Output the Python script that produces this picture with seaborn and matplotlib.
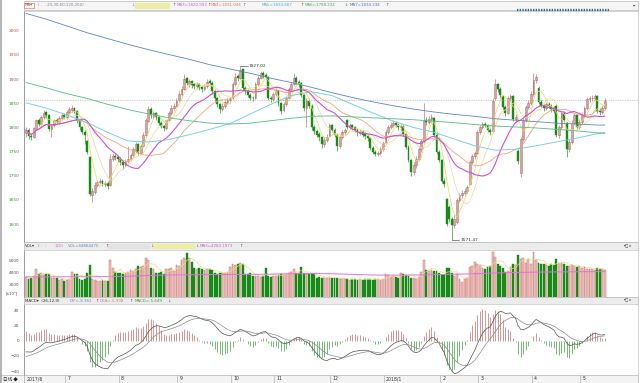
import numpy as np
import pandas as pd
import matplotlib
matplotlib.use('Agg')
import matplotlib.pyplot as plt
from matplotlib.patches import Rectangle
import seaborn as sns

# daily candles, 2017/6 .. 2018/5
open_ = [
    1788, 1795, 1783, 1781, 1797, 1816, 1808, 1821, 1831, 1826,
    1796, 1806, 1815, 1812, 1819, 1826, 1822, 1831, 1837, 1840,
    1834, 1815, 1800, 1790, 1772, 1738, 1660, 1667, 1680, 1688,
    1690, 1682, 1686, 1680, 1735, 1741, 1738, 1735, 1728, 1722,
    1730, 1734, 1742, 1754, 1765, 1748, 1762, 1785, 1814, 1838,
    1824, 1830, 1822, 1810, 1803, 1798, 1815, 1829, 1840, 1845,
    1856, 1870, 1880, 1902, 1890, 1896, 1889, 1885, 1890, 1883,
    1880, 1885, 1896, 1893, 1875, 1860, 1848, 1838, 1845, 1852,
    1856, 1860, 1890, 1906, 1903, 1920, 1882, 1875, 1868, 1862,
    1861, 1890, 1903, 1912, 1908, 1904, 1860, 1858, 1870, 1876,
    1850, 1836, 1848, 1862, 1880, 1890, 1903, 1895, 1892, 1867,
    1840, 1855, 1845, 1800, 1792, 1786, 1780, 1765, 1774, 1782,
    1805, 1795, 1785, 1762, 1780, 1790, 1815, 1800, 1805, 1800,
    1795, 1788, 1792, 1786, 1782, 1778, 1758, 1750, 1745, 1748,
    1755, 1768, 1790, 1800, 1806, 1810, 1805, 1800, 1804, 1786,
    1760, 1732, 1708, 1722, 1735, 1755, 1772, 1815, 1812, 1818,
    1820, 1785, 1750, 1732, 1690, 1652, 1635, 1610, 1598, 1604,
    1650, 1660, 1665, 1668, 1683, 1728, 1740, 1748, 1790, 1800,
    1808, 1805, 1795, 1793, 1860, 1890, 1880, 1866, 1842, 1830,
    1860, 1865, 1818, 1752, 1705, 1776, 1815, 1842, 1850, 1870,
    1898, 1882, 1852, 1845, 1840, 1848, 1845, 1840, 1845, 1785,
    1800, 1830, 1810, 1755, 1770, 1810, 1825, 1800, 1812, 1825,
    1840, 1858, 1860, 1862, 1865, 1835, 1832, 1840]
high = [
    1800, 1798, 1788, 1800, 1818, 1820, 1825, 1836, 1834, 1828,
    1808, 1818, 1819, 1824, 1830, 1830, 1836, 1842, 1846, 1843,
    1836, 1818, 1804, 1795, 1775, 1740, 1675, 1688, 1692, 1696,
    1694, 1689, 1690, 1745, 1748, 1745, 1742, 1738, 1732, 1735,
    1762, 1748, 1760, 1770, 1768, 1766, 1790, 1820, 1845, 1842,
    1835, 1833, 1825, 1814, 1806, 1818, 1834, 1846, 1850, 1860,
    1875, 1885, 1910, 1905, 1900, 1899, 1893, 1895, 1893, 1887,
    1890, 1900, 1900, 1896, 1878, 1863, 1851, 1850, 1856, 1860,
    1864, 1894, 1912, 1910, 1927.02, 1922, 1886, 1879, 1872, 1866,
    1894, 1907, 1916, 1916, 1912, 1906, 1865, 1874, 1882, 1878,
    1853, 1852, 1866, 1884, 1895, 1912, 1906, 1899, 1894, 1870,
    1862, 1860, 1848, 1805, 1796, 1790, 1783, 1780, 1786, 1810,
    1808, 1799, 1788, 1785, 1794, 1799, 1818, 1810, 1808, 1803,
    1799, 1796, 1795, 1790, 1786, 1780, 1762, 1754, 1752, 1760,
    1772, 1794, 1806, 1812, 1815, 1813, 1809, 1808, 1806, 1788,
    1763, 1735, 1728, 1740, 1760, 1776, 1850, 1822, 1824, 1828,
    1822, 1788, 1753, 1735, 1696, 1655, 1640, 1614, 1618, 1655,
    1665, 1670, 1674, 1680, 1732, 1746, 1752, 1794, 1806, 1812,
    1812, 1808, 1798, 1860, 1900, 1893, 1884, 1868, 1846, 1865,
    1870, 1867, 1828, 1756, 1780, 1820, 1847, 1856, 1876, 1913,
    1910, 1885, 1856, 1849, 1853, 1852, 1849, 1845, 1848, 1806,
    1835, 1833, 1812, 1776, 1815, 1830, 1828, 1818, 1830, 1845,
    1863, 1866, 1868, 1870, 1868, 1840, 1846, 1862]
low = [
    1780, 1777, 1774, 1778, 1795, 1803, 1805, 1818, 1820, 1792,
    1780, 1802, 1807, 1808, 1815, 1817, 1818, 1828, 1832, 1830,
    1810, 1795, 1786, 1765, 1745, 1658, 1646, 1662, 1676, 1682,
    1678, 1676, 1672, 1678, 1730, 1732, 1728, 1722, 1715, 1718,
    1726, 1730, 1738, 1750, 1742, 1745, 1760, 1782, 1812, 1820,
    1818, 1816, 1805, 1798, 1792, 1795, 1812, 1826, 1836, 1842,
    1852, 1866, 1878, 1887, 1884, 1882, 1879, 1880, 1877, 1874,
    1876, 1882, 1887, 1870, 1855, 1842, 1830, 1834, 1840, 1848,
    1850, 1858, 1886, 1896, 1900, 1878, 1870, 1863, 1857, 1855,
    1858, 1886, 1900, 1903, 1900, 1856, 1852, 1854, 1866, 1845,
    1828, 1832, 1845, 1858, 1876, 1887, 1890, 1884, 1864, 1835,
    1800, 1840, 1795, 1786, 1780, 1772, 1758, 1760, 1770, 1780,
    1790, 1780, 1752, 1758, 1776, 1786, 1796, 1796, 1795, 1790,
    1783, 1784, 1780, 1777, 1772, 1753, 1745, 1740, 1740, 1744,
    1752, 1765, 1786, 1796, 1800, 1800, 1794, 1795, 1782, 1755,
    1728, 1700, 1702, 1716, 1730, 1750, 1768, 1806, 1808, 1812,
    1780, 1745, 1728, 1685, 1676, 1596, 1605, 1571.47, 1592, 1600,
    1645, 1655, 1660, 1664, 1680, 1724, 1735, 1745, 1786, 1796,
    1800, 1790, 1785, 1790, 1856, 1874, 1860, 1838, 1824, 1828,
    1855, 1814, 1812, 1725, 1698, 1772, 1812, 1838, 1846, 1866,
    1892, 1848, 1840, 1834, 1836, 1840, 1832, 1830, 1780, 1778,
    1796, 1810, 1738, 1750, 1766, 1806, 1796, 1796, 1808, 1820,
    1836, 1852, 1855, 1857, 1830, 1826, 1828, 1836]
close = [
    1795, 1782, 1780, 1798, 1815, 1808, 1822, 1830, 1825, 1797,
    1805, 1815, 1812, 1820, 1825, 1822, 1832, 1838, 1840, 1835,
    1815, 1800, 1790, 1785, 1750, 1662, 1668, 1680, 1688, 1690,
    1682, 1685, 1678, 1735, 1740, 1738, 1735, 1728, 1722, 1730,
    1735, 1742, 1755, 1765, 1748, 1762, 1785, 1815, 1838, 1825,
    1830, 1822, 1810, 1803, 1798, 1815, 1830, 1840, 1845, 1855,
    1870, 1880, 1900, 1892, 1896, 1888, 1885, 1890, 1882, 1880,
    1885, 1895, 1893, 1875, 1860, 1848, 1838, 1845, 1852, 1856,
    1858, 1890, 1905, 1902, 1918, 1882, 1875, 1868, 1862, 1860,
    1890, 1903, 1912, 1908, 1905, 1860, 1858, 1870, 1878, 1850,
    1835, 1848, 1862, 1880, 1890, 1903, 1895, 1890, 1868, 1840,
    1855, 1845, 1800, 1792, 1785, 1780, 1765, 1775, 1780, 1805,
    1795, 1785, 1762, 1780, 1790, 1795, 1800, 1805, 1800, 1795,
    1788, 1792, 1785, 1782, 1778, 1758, 1750, 1745, 1748, 1755,
    1768, 1790, 1800, 1806, 1810, 1805, 1800, 1803, 1786, 1760,
    1732, 1708, 1722, 1735, 1755, 1772, 1815, 1812, 1818, 1822,
    1785, 1750, 1732, 1690, 1682, 1600, 1611, 1598, 1610, 1650,
    1660, 1665, 1668, 1676, 1728, 1740, 1748, 1790, 1800, 1808,
    1805, 1795, 1790, 1855, 1890, 1880, 1868, 1842, 1830, 1860,
    1865, 1818, 1822, 1730, 1776, 1815, 1842, 1850, 1870, 1898,
    1905, 1852, 1845, 1840, 1848, 1845, 1838, 1835, 1785, 1800,
    1830, 1815, 1755, 1770, 1810, 1825, 1800, 1812, 1825, 1840,
    1858, 1860, 1862, 1865, 1835, 1832, 1840, 1855]
# volume, x10^4
vol = [
    3650, 3500, 3550, 3700, 4300, 3900, 3950, 3800, 3900, 3850,
    3600, 3550, 3600, 3400, 3450, 3350, 3400, 3500, 4050, 3900,
    3850, 3500, 3400, 3450, 4000, 4600, 3450, 3400, 3350, 3300,
    3400, 3350, 3300, 5000, 4350, 4050, 3950, 3950, 3900, 4000,
    4050, 4200, 4150, 4250, 4500, 4450, 4550, 5150, 5000, 4350,
    4300, 4000, 3950, 4050, 3900, 4300, 4250, 4350, 4100, 4600,
    4500, 5000, 5150, 5550, 5150, 4850, 4350, 4300, 4350, 4250,
    4200, 4300, 4250, 4200, 3950, 3900, 4000, 3950, 4000, 4050,
    4450, 4650, 4600, 4700, 4750, 4700, 3900, 3850, 3950, 3700,
    3750, 3700, 3650, 3700, 4350, 3700, 3650, 3750, 3750, 3800,
    3850, 3800, 3900, 4000, 4050, 4300, 4000, 4000, 4450, 3950,
    3900, 3850, 3900, 3850, 3600, 3650, 3600, 3550, 3600, 3650,
    3600, 3550, 3600, 3500, 3450, 3500, 3450, 3400, 3450, 3500,
    3400, 3450, 3400, 3450, 3500, 3450, 3400, 3450, 3500, 3400,
    3500, 3900, 3800, 3650, 3700, 3650, 3600, 3950, 3900, 3800,
    3750, 3600, 3550, 3500, 3650, 4050, 5000, 4200, 4150, 4200,
    4100, 4150, 3950, 3800, 3800, 4400, 4350, 3950, 3700, 3900,
    3500, 3270, 3500, 3550, 4450, 4500, 4850, 4650, 4600, 4350,
    4300, 4450, 4500, 5650, 5250, 4700, 4500, 4400, 4050, 4100,
    4450, 4650, 4600, 5400, 5100, 5150, 4800, 5100, 4700, 5650,
    5000, 4800, 4700, 4650, 4600, 4550, 4650, 4600, 5100, 4750,
    4800, 4700, 4550, 4500, 4600, 4500, 4450, 4500, 4400, 4450,
    4300, 4250, 4300, 4200, 4350, 4300, 4250, 4200]

# long moving averages every 8 sessions
ma_idx = [0, 8, 16, 24, 32, 40, 48, 56, 64, 72, 80, 88, 96, 104, 112,
          120, 128, 136, 144, 152, 160, 168, 176, 184, 192, 200, 208, 216, 224, 227]
ma60 = [1851, 1840, 1826, 1810, 1790, 1772, 1770, 1775, 1785, 1796, 1808, 1828, 1848, 1866, 1874,
        1866, 1848, 1830, 1813, 1800, 1790, 1776, 1762, 1753, 1755, 1762, 1770, 1778, 1787, 1790]
ma120 = [1893, 1882, 1870, 1860, 1848, 1837, 1828, 1820, 1814, 1809, 1807, 1809, 1814, 1819, 1823,
         1824, 1822, 1820, 1818, 1816, 1813, 1810, 1806, 1803, 1801, 1799, 1796, 1793, 1789, 1788]
ma250 = [2036, 2024, 2010, 1996, 1984, 1972, 1961, 1951, 1941, 1930, 1921, 1912, 1902, 1893, 1883,
         1872, 1862, 1853, 1845, 1838, 1832, 1827, 1823, 1818, 1815, 1812, 1809, 1807, 1805, 1805]
vol_ma_long = [3650, 3650, 3660, 3660, 3670, 3700, 3760, 3800, 3820, 3830, 3840, 3850, 3870, 3900, 3920,
               3900, 3850, 3800, 3790, 3800, 3830, 3860, 3900, 3960, 4000, 4030, 4050, 4060, 4070, 4070]

month_pos = [0, 16, 37, 60, 81, 98, 120, 141, 163, 178, 199, 218]
month_lbl = ['2017/6', '7', '8', '9', '10', '11', '12', '2018/1', '2', '3', '4', '5']

prev_ref = 1856
# MACD(26,12,9) state before the first visible session
ema12_seed, ema26_seed, dea_seed = 1797.3, 1812.0, -21.0

o = np.array(open_, float)
h = np.array(high, float)
l = np.array(low, float)
c = np.array(close, float)
v = np.array(vol, float)
idx = np.arange(len(c))
up = c >= o

cs = pd.Series(c)
ma5 = cs.rolling(5, min_periods=1).mean()
ma10 = cs.rolling(10, min_periods=1).mean()
ma20 = cs.rolling(20, min_periods=1).mean()
ma30 = cs.rolling(30, min_periods=1).mean()
vma5 = pd.Series(v).rolling(5, min_periods=1).mean()

e12, e26, dea = [ema12_seed], [ema26_seed], [dea_seed]
for price in c[1:]:
    e12.append(e12[-1] + (price - e12[-1]) * 2 / 13)
    e26.append(e26[-1] + (price - e26[-1]) * 2 / 27)
    dea.append(dea[-1] + ((e12[-1] - e26[-1]) - dea[-1]) * 2 / 10)
dif = np.array(e12) - np.array(e26)
dea = np.array(dea)
hist = 2 * (dif - dea)

sns.set_theme(style='white')
plt.rcParams['font.family'] = ['DejaVu Sans', 'Noto Sans CJK SC']

W, H = 640, 383
fig = plt.figure(figsize=(6.4, 3.83), dpi=100)
fig.patch.set_facecolor('white')


def ax_at(x0, y0, x1, y1):
    return fig.add_axes([x0 / W, 1 - y1 / H, (x1 - x0) / W, (y1 - y0) / H])


def ftext(x, y, s, color='#404040', size=2.9, **kw):
    fig.text(x / W, 1 - y / H, s, color=color, fontsize=size, va='center', ha='left',
             zorder=5, **kw)


def frect(x0, y0, x1, y1, fc, ec='none', lw=0.5):
    fig.patches.append(Rectangle((x0 / W, 1 - y1 / H), (x1 - x0) / W, (y1 - y0) / H,
                                 transform=fig.transFigure, facecolor=fc, edgecolor=ec,
                                 lw=lw, zorder=-1))


xl = (-0.784, 240.0)
UP_EDGE, UP_FILL, DN = '#b86a6a', '#ffffff', '#188a18'

# header bars
frect(24, 1, 638, 10, '#f5f5f5', '#b8b8b8')
frect(24, 242, 638, 250, '#ececec', '#b8b8b8')
frect(24, 297, 638, 304, '#ececec', '#b8b8b8')
frect(0, 375, 638, 383, '#f3f3f3', '#b8b8b8')
fig.add_artist(plt.Line2D([1 / W, 1 / W], [0, 1], color='#a8a8a8', lw=1.2))

# ---- price panel
ax = ax_at(24, 11, 638, 242)
ax.vlines(idx, l, h, colors=np.where(up, UP_EDGE, DN), lw=0.45)
body = np.maximum(np.abs(c - o), 0.8)
ax.bar(idx[up], body[up], bottom=np.minimum(o, c)[up], width=0.72,
       color=UP_FILL, edgecolor=UP_EDGE, lw=0.45)
ax.bar(idx[~up], body[~up], bottom=np.minimum(o, c)[~up], width=0.72,
       color=DN, edgecolor=DN, lw=0.3)
sns.lineplot(x=idx, y=ma5.values, ax=ax, color='#e6dc6a', lw=0.55)
sns.lineplot(x=idx, y=ma10.values, ax=ax, color='#f2d7a6', lw=0.55)
sns.lineplot(x=idx, y=ma30.values, ax=ax, color='#eca47c', lw=0.6)
sns.lineplot(x=idx, y=ma20.values, ax=ax, color='#cf4fd0', lw=0.8)
sns.lineplot(x=ma_idx, y=ma60, ax=ax, color='#72cde0', lw=0.65)
sns.lineplot(x=ma_idx, y=ma120, ax=ax, color='#5cbf8a', lw=0.65)
sns.lineplot(x=ma_idx, y=ma250, ax=ax, color='#5b84c4', lw=0.6)
ax.axhline(prev_ref, color='#a0a0a0', lw=0.5, ls=(0, (1, 1.5)))

imax, imin = int(np.argmax(h)), int(np.argmin(l))
ax.plot([imax, imax + 3], [h[imax], h[imax]], color='#303030', lw=0.4)
ax.text(imax + 3.3, h[imax], f'{h[imax]:.2f}', fontsize=3.1, va='center', color='#303030')
ax.plot([imin, imin, imin + 3], [l[imin], l[imin] - 4, l[imin] - 4], color='#303030', lw=0.4)
ax.text(imin + 3.3, l[imin] - 4, f'{l[imin]:.2f}', fontsize=3.1, va='center', color='#303030')

ax.set_ylim(1563, 2041)
ax.set_yticks(range(1600, 2001, 50))
ax.set_yticklabels([str(t) for t in range(1600, 2001, 50)])

# ---- volume panel
axv = ax_at(24, 250, 638, 297)
axv.bar(idx[up], v[up], width=0.72, color='#f2c2bc', edgecolor='#c07070', lw=0.35)
axv.bar(idx[~up], v[~up], width=0.72, color=DN, edgecolor=DN, lw=0.3)
sns.lineplot(x=idx, y=vma5.values, ax=axv, color='#e8e07a', lw=0.5)
sns.lineplot(x=ma_idx, y=vol_ma_long, ax=axv, color='#e070e0', lw=0.7)
axv.set_ylim(2040, 5800)
axv.set_yticks([3000, 4000, 5000])
ftext(6, 293.5, '[x10⁴]', size=2.9, color='#505050')

# ---- MACD panel
axm = ax_at(24, 304, 638, 375)
axm.vlines(idx, 0, hist, colors=np.where(hist >= 0, '#c86a6a', '#3e9e3e'), lw=0.5)
sns.lineplot(x=idx, y=dif, ax=axm, color='#505050', lw=0.5)
sns.lineplot(x=idx, y=dea, ax=axm, color='#8a8a8a', lw=0.5)
axm.set_ylim(-45, 48)
axm.set_yticks([-40, -20, 0, 20, 40])

for a in (ax, axv, axm):
    a.set_xlim(xl)
    a.set_xticks([])
    a.set_xlabel('')
    a.set_ylabel('')
    a.set_facecolor('white')
    for s in ('top', 'right', 'bottom'):
        a.spines[s].set_color('#c4c4c4')
        a.spines[s].set_linewidth(0.5)
    a.spines['left'].set_color('#8c8c8c')
    a.spines['left'].set_linewidth(0.6)
    a.spines['left'].set_linestyle((0, (1, 1)))
    a.tick_params(axis='y', length=2.5, width=0.4, labelsize=3.1, pad=1,
                  color='#707070', labelcolor='#505050')

for t, lab in zip(range(1600, 2001, 50), ax.get_yticklabels()):
    lab.set_color('#c04a4a' if t > prev_ref else '#3c8c3c')

# ---- date strip
axd = ax_at(24, 375, 638, 383)
axd.set_xlim(xl)
axd.set_ylim(0, 1)
axd.axis('off')
for p, lbl in zip(month_pos, month_lbl):
    axd.plot([p - 0.6, p - 0.6], [0, 1], color='#a0a0a0', lw=0.4)
    axd.text(p + 0.2, 0.5, lbl, fontsize=3.3, va='center', ha='left', color='#303030')
ftext(3, 379, '日线 ◆', size=3.3, color='#202020',
      family=['Noto Sans CJK SC', 'DejaVu Sans'])

# ---- header texts
ftext(25, 5.5, 'MA▾', color='#c04040',
      bbox=dict(boxstyle='square,pad=0.15', fc='white', ec='#d06060', lw=0.4))
ftext(38, 5.5, '( ,  , 20,30,60,120,250)', color='#8a7aa8')
ftext(131, 5.5, '↓', color='#808080')
frect(135, 2.5, 170, 8.5, '#eeeea2')
ftext(172, 5.5, '↑', color='#a03030')
ftext(177, 5.5, 'MA3=1820.993', color='#cc5fcc')
ftext(207, 5.5, '↑', color='#a03030')
ftext(211, 5.5, 'MA4=1831.044', color='#e07a5a')
ftext(242, 5.5, '↑', color='#a03030')
ftext(262, 5.5, 'MA5=1834.887', color='#4cb4cc')
ftext(300, 5.5, '↑', color='#a03030')
ftext(305, 5.5, 'MA6=1788.234', color='#4cae5c')
ftext(344, 5.5, '↓', color='#308030')
ftext(350, 5.5, 'MA7=1834.234', color='#4a78c0')
ftext(385, 5.5, '↑', color='#a03030')
ftext(633, 5.5, '▾', color='#303030')
fig.add_artist(plt.Line2D([517 / W, 610 / W], [1 - 10 / H] * 2, color='#2f6e8c',
                          lw=1.6, ls=(0, (0.6, 0.6))))

ftext(25, 246, 'VOL▾', color='#303030')
ftext(38, 246, '( ,  ,', color='#707070')
ftext(55, 246, '120)', color='#d070d0')
ftext(68, 246, 'VOL=44864470', color='#6a88b8')
ftext(105, 246, '↑', color='#a03030')
frect(108, 243.5, 150, 248.5, '#e2e2e2')
ftext(150, 246, '↓', color='#707070')
frect(153, 243.5, 195, 248.5, '#eeeea2')
ftext(195, 246, '↓', color='#707070')
ftext(200, 246, 'MA3=4283.1973', color='#d060d0')
ftext(239, 246, '↑', color='#a03030')
ftext(624, 246, '▾◻×', color='#404040')

ftext(25, 300.5, 'MACD▾  (26,12,9)', color='#303030')
ftext(70, 300.5, 'DIF=-8.362', color='#6a90c0')
ftext(95, 300.5, '↑', color='#a03030')
ftext(100, 300.5, 'DEA=-5.938', color='#d08080')
ftext(129, 300.5, '↑', color='#a03030')
ftext(135, 300.5, 'MACD=-5.649', color='#3ca03c')
ftext(167, 300.5, '↓', color='#308030')
ftext(624, 300.5, '▾◻×', color='#404040')

fig.savefig('out.png', dpi=100)
